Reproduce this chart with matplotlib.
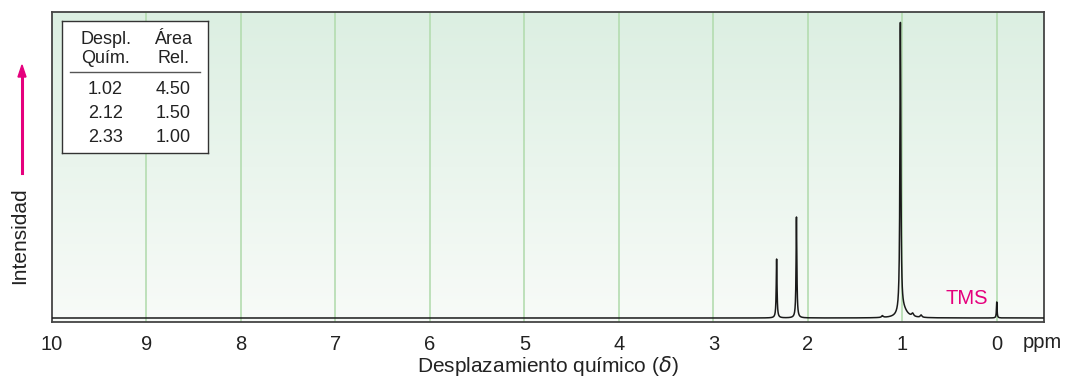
"""1H NMR spectrum with relative-area table (recreation)."""

import matplotlib.pyplot as plt
import numpy as np
from matplotlib.colors import LinearSegmentedColormap

plt.rcParams["font.family"] = ["Liberation Sans", "DejaVu Sans"]

# peaks: position (ppm), height (relative to tallest), half-width (ppm)
peak_ppm = [1.02, 2.12, 2.33, 0.0, 1.21, 0.89, 0.80, 0.99]
peak_height = [0.98, 0.341, 0.199, 0.054, 0.006, 0.010, 0.008, 0.025]
peak_width = [0.006, 0.005, 0.005, 0.004, 0.01, 0.012, 0.01, 0.05]

tick_ppm = [10, 9, 8, 7, 6, 5, 4, 3, 2, 1, 0]
table_shift = ["1.02", "2.12", "2.33"]
table_area = ["4.50", "1.50", "1.00"]

MAGENTA = "#e5007d"
GRID = "#b4dcb0"
TXT = "#222222"

x = np.linspace(-0.5, 10.0, 21001)
y = np.zeros_like(x)
for p, h, w in zip(peak_ppm, peak_height, peak_width):
    y += h * w**2 / ((x - p) ** 2 + w**2)

W, H = 1069, 379
fig = plt.figure(figsize=(W / 100, H / 100), dpi=100)
ax = fig.add_axes([52 / W, 1 - 322 / H, (1044 - 52) / W, (322 - 12) / H])

ylo, yhi = -4 / 296, 306 / 296
ax.set_xlim(10, -0.5)
ax.set_ylim(ylo, yhi)

cmap = LinearSegmentedColormap.from_list("bg", ["#f8fbf8", "#dcefe2"])
grad = np.linspace(0, 1, 256).reshape(-1, 1)
ax.imshow(grad, cmap=cmap, origin="lower", aspect="auto",
          extent=[10, -0.5, ylo, yhi], zorder=0)

for t in tick_ppm[1:]:
    ax.axvline(t, color=GRID, lw=1.2, zorder=1)

ax.plot(x, y, color="#1a1a1a", lw=1.1, zorder=3)

for s in ax.spines.values():
    s.set_color("#444444")
    s.set_linewidth(1.3)
ax.set_yticks([])
ax.set_xticks(tick_ppm)
ax.set_xticklabels([str(t) for t in tick_ppm], fontsize=14.5, color=TXT)
ax.tick_params(axis="x", length=0, pad=9)
ax.set_xlabel(r"Desplazamiento químico ($\delta$)", fontsize=15,
              color=TXT, labelpad=0)

fig.text(1042 / W, 1 - 343 / H, "ppm", fontsize=14.5, color=TXT,
         ha="center", va="center")
ax.text(0.32, 0.035, "TMS", fontsize=14.5, color=MAGENTA, ha="center",
        va="bottom", zorder=4)

# y label with arrow
fig.text(20 / W, 1 - 236 / H, "Intensidad", rotation=90, fontsize=15,
         color=TXT, ha="center", va="center")
fig.add_artist(plt.Line2D([22 / W, 22 / W], [1 - 173 / H, 1 - 75 / H],
                          color=MAGENTA, lw=2.2))
fig.add_artist(plt.Polygon([[18 / W, 1 - 77 / H], [26 / W, 1 - 77 / H],
                            [22 / W, 1 - 65 / H]], closed=True,
                           color=MAGENTA))

# relative-area table
tab = fig.add_axes([62 / W, 1 - 153 / H, 146 / W, 132 / H])
tab.set_xticks([])
tab.set_yticks([])
tab.set_xlim(0, 146)
tab.set_ylim(132, 0)
for s in tab.spines.values():
    s.set_color("#333333")
    s.set_linewidth(1.0)
tab.text(43.5, 28, "Despl.\nQuím.", fontsize=13, ha="center", va="center",
         color=TXT, linespacing=1.2)
tab.text(111, 28, "Área\nRel.", fontsize=13, ha="center", va="center",
         color=TXT, linespacing=1.2)
tab.plot([8, 138], [51, 51], color="#555555", lw=1.0)
for i, (s, a) in enumerate(zip(table_shift, table_area)):
    yy = 68 + i * 24.5
    tab.text(43.5, yy, s, fontsize=13, ha="center", va="center", color=TXT)
    tab.text(111, yy, a, fontsize=13, ha="center", va="center", color=TXT)

fig.savefig("out.png", dpi=100)
